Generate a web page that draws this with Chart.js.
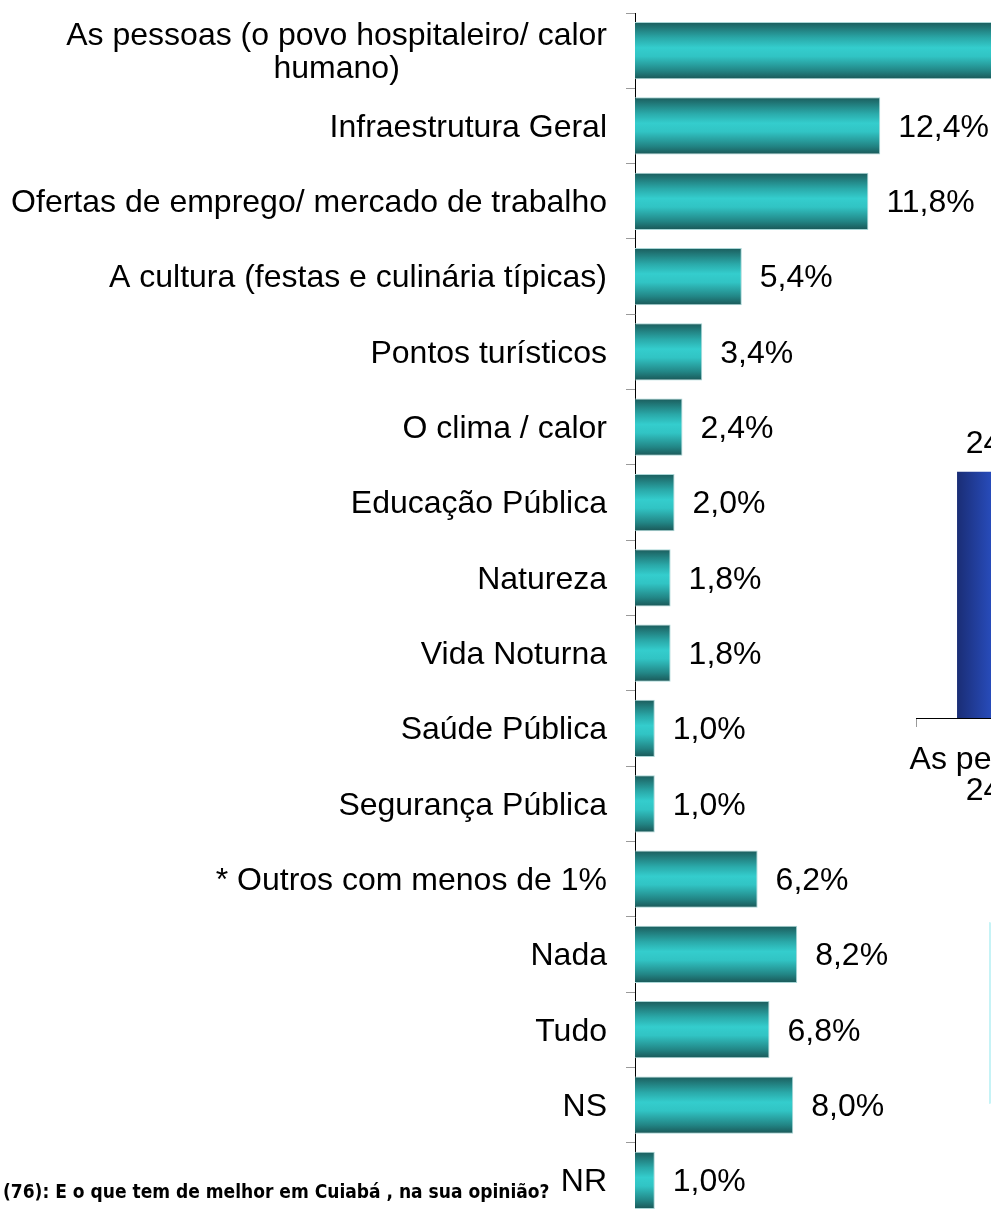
<!DOCTYPE html>
<html>
<head>
<meta charset="utf-8">
<script src="https://cdn.jsdelivr.net/npm/chart.js@4.4.0/dist/chart.umd.min.js"></script>
<style>
  html, body { margin: 0; padding: 0; background: #fff; }
  body { width: 991px; height: 1209px; overflow: hidden; position: relative; }
  #mainChart { position: absolute; left: 0; top: 0; }
  #sideChart { position: absolute; left: 880px; top: 420px; }
  #legendEdge { position: absolute; left: 989px; top: 922px; width: 30px; height: 180px;
    border-left: 2px solid #c6f3f6; border-top: 1px solid #e4fbfc; border-bottom: 1px solid #e4fbfc; }
  #question { position: absolute; left: 3px; top: 1180px; white-space: nowrap;
    font-family: "Liberation Sans Narrow", "DejaVu Sans Condensed", "Liberation Sans", sans-serif;
    font-weight: bold; font-size: 19px; color: #000; }
</style>
</head>
<body>
<canvas id="mainChart" width="991" height="1220"></canvas>
<canvas id="sideChart" width="242" height="398"></canvas>
<div id="legendEdge"></div>
<div id="question">(76): E o que tem de melhor em Cuiabá , na sua opinião?</div>

<script>
// ===== Data =====
const categories = [
  ["As pessoas (o povo hospitaleiro/ calor", "humano)"],
  "Infraestrutura Geral",
  "Ofertas de emprego/ mercado de trabalho",
  "A cultura (festas e culinária típicas)",
  "Pontos turísticos",
  "O clima / calor",
  "Educação Pública",
  "Natureza",
  "Vida Noturna",
  "Saúde Pública",
  "Segurança Pública",
  "* Outros com menos de 1%",
  "Nada",
  "Tudo",
  "NS",
  "NR"
];
const percents = [24.8, 12.4, 11.8, 5.4, 3.4, 2.4, 2.0, 1.8, 1.8, 1.0, 1.0, 6.2, 8.2, 6.8, 8.0, 1.0];

const sideCategories = [["As pessoas (o", "24,8%"]];
const sideValues = [24.8];

const LABEL_FONT = '32px "Liberation Sans", Arial, sans-serif';
const SIDE_BAR_PCT = 0.568;
const fmt = v => v.toFixed(1).replace(".", ",") + "%";

// teal cylinder look: dark edges, bright middle
function tealFill(ctx) {
  const chart = ctx.chart;
  const { chartArea, scales } = chart;
  if (!chartArea || !scales.y) return "#33cccc";
  const yc = scales.y.getPixelForValue(ctx.dataIndex);
  const half = (chartArea.bottom - chartArea.top) / categories.length * 0.76 / 2;
  const g = chart.ctx.createLinearGradient(0, yc - half, 0, yc + half);
  g.addColorStop(0, "#1b5c5c");
  g.addColorStop(0.28, "#2aa9a9");
  g.addColorStop(0.45, "#34cdcd");
  g.addColorStop(0.6, "#31c4c4");
  g.addColorStop(0.85, "#228585");
  g.addColorStop(1, "#1a5656");
  return g;
}

function blueFill(ctx) {
  const chart = ctx.chart;
  const { chartArea, scales } = chart;
  if (!chartArea || !scales.x) return "#2b55d6";
  const xc = scales.x.getPixelForValue(ctx.dataIndex);
  const half = (chartArea.right - chartArea.left) / sideCategories.length * SIDE_BAR_PCT / 2;
  const g = chart.ctx.createLinearGradient(xc - half, 0, xc + half, 0);
  g.addColorStop(0, "#1a2d75");
  g.addColorStop(0.5, "#2f5de2");
  g.addColorStop(1, "#1a2d75");
  return g;
}

// ===== Plugins =====
const leftLabels = {
  id: "leftLabels",
  afterDraw(chart) {
    const ctx = chart.ctx;
    const scale = chart.scales.y;
    ctx.save();
    ctx.font = LABEL_FONT;
    ctx.fillStyle = "#000";
    ctx.textAlign = "center";
    ctx.textBaseline = "middle";
    categories.forEach((label, i) => {
      const lines = Array.isArray(label) ? label : [label];
      const w = Math.max(...lines.map(l => ctx.measureText(l).width));
      const cx = 607 - w / 2;
      const lineH = 33;
      const y0 = scale.getPixelForValue(i) + 2 - (lines.length - 1) * lineH / 2;
      lines.forEach((l, k) => ctx.fillText(l, cx, y0 + k * lineH));
    });
    ctx.restore();
  }
};

const valueLabels = {
  id: "valueLabels",
  afterDatasetsDraw(chart) {
    const ctx = chart.ctx;
    const meta = chart.getDatasetMeta(0);
    const horizontal = chart.options.indexAxis === "y";
    ctx.save();
    ctx.font = LABEL_FONT;
    ctx.fillStyle = "#000";
    ctx.textBaseline = "middle";
    meta.data.forEach((bar, i) => {
      const v = chart.data.datasets[0].data[i];
      if (horizontal) {
        ctx.textAlign = "left";
        ctx.fillText(fmt(v), bar.x + 18, bar.y + 2);
      } else {
        ctx.textAlign = "center";
        ctx.fillText(fmt(v), bar.x, bar.y - 28);
      }
    });
    ctx.restore();
  }
};

// category text under the side chart's axis
const bottomLabels = {
  id: "bottomLabels",
  afterDraw(chart) {
    const ctx = chart.ctx;
    const scale = chart.scales.x;
    ctx.save();
    ctx.font = LABEL_FONT;
    ctx.fillStyle = "#000";
    ctx.textAlign = "center";
    ctx.textBaseline = "middle";
    sideCategories.forEach((label, i) => {
      const x = scale.getPixelForValue(i);
      label.forEach((l, k) => ctx.fillText(l, x, chart.chartArea.bottom + 42 + k * 31));
    });
    ctx.restore();
  }
};

// ===== Main horizontal chart =====
new Chart(document.getElementById("mainChart"), {
  type: "bar",
  data: {
    labels: categories,
    datasets: [{
      data: percents,
      backgroundColor: tealFill,
      borderColor: "#a9d6d6",
      borderWidth: 1,
      borderSkipped: "start",
      categoryPercentage: 1,
      barPercentage: 0.76
    }]
  },
  options: {
    indexAxis: "y",
    responsive: false,
    animation: false,
    layout: { padding: { top: 13, bottom: 2, left: 0, right: 0 } },
    plugins: { legend: { display: false }, tooltip: { enabled: false } },
    scales: {
      x: { display: false, min: 0, max: 18 },
      y: {
        afterFit: s => { s.width = 635; },
        ticks: { display: false },
        grid: { offset: true, drawOnChartArea: false, tickLength: 9, color: "#9a9a9a" },
        border: { display: true, color: "#000", width: 1 }
      }
    }
  },
  plugins: [leftLabels, valueLabels]
});

// ===== Side vertical chart =====
new Chart(document.getElementById("sideChart"), {
  type: "bar",
  data: {
    labels: sideCategories,
    datasets: [{
      data: sideValues,
      backgroundColor: blueFill,
      borderWidth: 0,
      categoryPercentage: 1,
      barPercentage: SIDE_BAR_PCT
    }]
  },
  options: {
    responsive: false,
    animation: false,
    layout: { padding: { top: 20, left: 36, right: 16, bottom: 0 } },
    plugins: { legend: { display: false }, tooltip: { enabled: false } },
    scales: {
      y: { display: false, min: 0, max: 28 },
      x: {
        afterFit: s => { s.height = 100; },
        ticks: { display: false },
        grid: { offset: true, drawOnChartArea: false, tickLength: 9, color: "#9a9a9a" },
        border: { display: true, color: "#000", width: 1 }
      }
    }
  },
  plugins: [valueLabels, bottomLabels]
});
</script>
</body>
</html>
